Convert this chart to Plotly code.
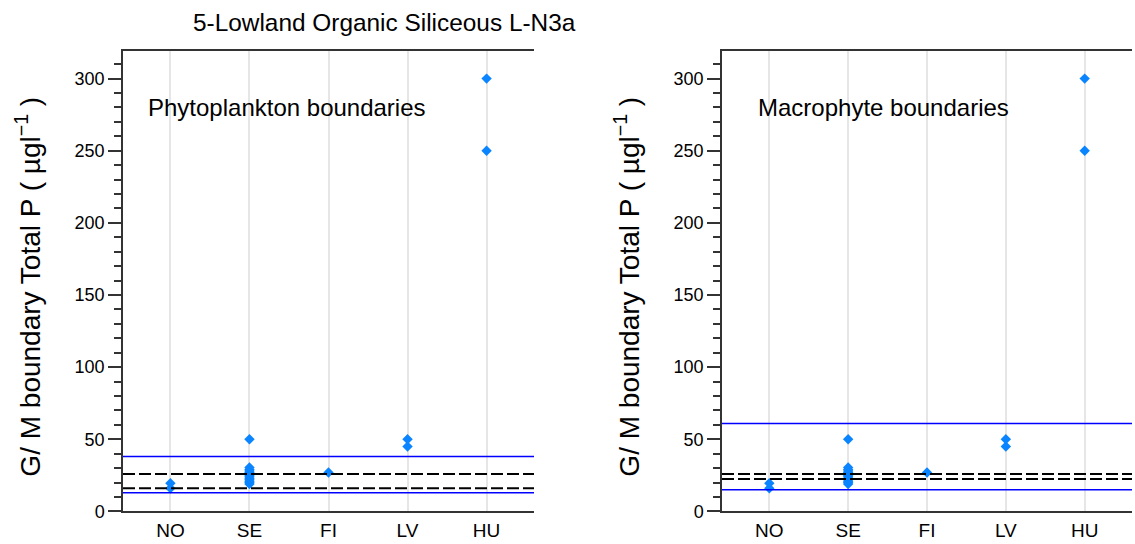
import plotly.graph_objects as go

# ---- data ----
categories = ["NO", "SE", "FI", "LV", "HU"]
point_country = ["NO", "NO",
                 "SE", "SE", "SE", "SE", "SE", "SE", "SE", "SE", "SE", "SE", "SE", "SE", "SE",
                 "FI", "LV", "LV", "HU", "HU"]
point_value = [16, 19.5,
               19, 20, 21, 22, 23, 24, 25, 26, 27, 28, 29, 30.5, 50,
               27, 45, 50, 250, 300]

phyto_solid = [13, 38]
phyto_dashed = [16, 26]
macro_solid = [15, 61]
macro_dashed = [22.5, 26]

panel_titles = ["Phytoplankton boundaries", "Macrophyte boundaries"]
main_title = "5-Lowland Organic Siliceous L-N3a"
y_label = "G/ M boundary Total P ( µgl<sup>−1</sup> )"
y_range = [0, 319.3]

W, H = 1135, 544
FONT = "Liberation Sans, Arial, sans-serif"
AXC = "#333333"

fig = go.Figure()

for i in range(2):
    xa = "x" if i == 0 else "x2"
    ya = "y" if i == 0 else "y2"
    fig.add_trace(go.Scatter(
        x=point_country, y=point_value, xaxis=xa, yaxis=ya,
        mode="markers", marker=dict(symbol="diamond", size=8, color="#0A84FF"),
        showlegend=False, hoverinfo="x+y"))

line_sets = [(phyto_solid, phyto_dashed, "x", "y"), (macro_solid, macro_dashed, "x2", "y2")]
for solid, dashed, xa, ya in line_sets:
    for v in solid:
        fig.add_shape(type="line", xref=f"{xa} domain", yref=ya, x0=0, x1=1, y0=v, y1=v,
                      line=dict(color="#0000FF", width=1.5))
    for v in dashed:
        fig.add_shape(type="line", xref=f"{xa} domain", yref=ya, x0=0, x1=1, y0=v, y1=v,
                      line=dict(color="#000000", width=2, dash="12px,4px"))

doms_x = [[123 / W, 534 / W], [722 / W, 1132 / W]]
dom_y = [1 - 521 / H, 1 - 51.7 / H]

def xaxis(dom, anchor):
    return dict(domain=dom, anchor=anchor, type="category", categoryorder="array",
                categoryarray=categories, range=[-0.6, 4.6],
                showgrid=True, gridcolor="#E6E6E6", gridwidth=1.5,
                showline=True, linecolor=AXC, linewidth=1.5, mirror=True,
                ticks="", zeroline=False, ticklabelstandoff=1,
                tickfont=dict(family=FONT, size=19, color="#000"))

def yaxis(anchor):
    return dict(domain=dom_y, anchor=anchor, range=y_range, showgrid=False, zeroline=False,
                showline=True, linecolor=AXC, linewidth=1.5,
                ticks="outside", ticklen=13, tickwidth=1.5, tickcolor=AXC, dtick=50, tick0=0,
                minor=dict(dtick=10, tick0=0, ticks="outside", ticklen=7, tickwidth=1.5, tickcolor=AXC),
                ticklabelstandoff=0,
                tickfont=dict(family=FONT, size=18, color="#000"))

def yaxis_right(overlay, anchor):
    return dict(domain=dom_y, anchor=anchor, overlaying=overlay, side="right", range=y_range,
                showgrid=False, zeroline=False, showline=True, linecolor=AXC, linewidth=1.5,
                ticks="outside", ticklen=7, tickwidth=1.5, tickcolor=AXC, dtick=10, tick0=0,
                showticklabels=False)

fig.update_layout(
    width=W, height=H, margin=dict(l=0, r=0, t=0, b=0),
    paper_bgcolor="white", plot_bgcolor="white",
    font=dict(family=FONT, color="#000"),
    xaxis=xaxis(doms_x[0], "y"), yaxis=yaxis("x"),
    xaxis2=xaxis(doms_x[1], "y2"), yaxis2=yaxis("x2"),
    yaxis3=yaxis_right("y", "x"), yaxis4=yaxis_right("y2", "x2"),
)

annotations = [
    dict(text=main_title, x=384 / W, y=1 - 23 / H, xref="paper", yref="paper",
         xanchor="center", yanchor="middle", showarrow=False,
         font=dict(family=FONT, size=24.4, color="#000")),
    dict(text=panel_titles[0], x=146 / W, y=1 - 110 / H, xref="paper", yref="paper",
         xanchor="left", yanchor="middle", showarrow=False,
         font=dict(family=FONT, size=24, color="#000")),
    dict(text=panel_titles[1], x=756 / W, y=1 - 110 / H, xref="paper", yref="paper",
         xanchor="left", yanchor="middle", showarrow=False,
         font=dict(family=FONT, size=24, color="#000")),
    dict(text=y_label, x=28 / W, y=1 - 292 / H, xref="paper", yref="paper",
         xanchor="center", yanchor="middle", textangle=-90, showarrow=False,
         font=dict(family=FONT, size=28, color="#000")),
    dict(text=y_label, x=627 / W, y=1 - 292 / H, xref="paper", yref="paper",
         xanchor="center", yanchor="middle", textangle=-90, showarrow=False,
         font=dict(family=FONT, size=28, color="#000")),
]
fig.update_layout(annotations=annotations)

fig.write_html("out.html", config={"displayModeBar": False},
               post_script="document.body.style.margin='0px';document.body.style.overflow='hidden';")
